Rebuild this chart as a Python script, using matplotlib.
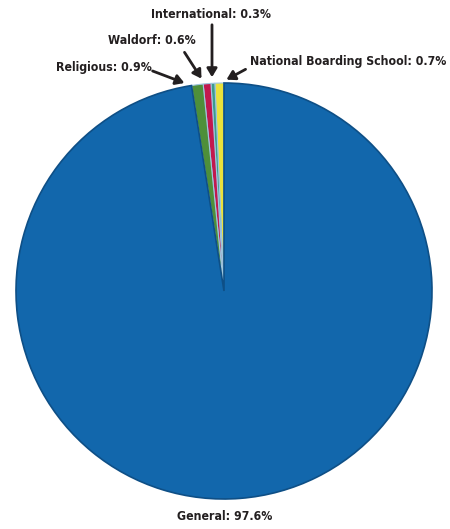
import matplotlib
matplotlib.use("Agg")
import matplotlib.pyplot as plt

categories = ["National Boarding School", "International", "Waldorf", "Religious", "General"]
values = [0.7, 0.3, 0.6, 0.9, 97.6]
colors = ["#E9E23C", "#3C9C8C", "#C2184E", "#4E8F3A", "#1267AC"]

plt.rcParams['font.family'] = ['DejaVu Sans']

W, H = 450, 529
fig = plt.figure(figsize=(W / 100, H / 100), dpi=100)
ax = fig.add_axes([0, 0, 1, 1])

def Y(y):
    return H - y

cx, cy, r = 224, Y(291), 208
wedges, _ = ax.pie(values, colors=colors, startangle=90, counterclock=True,
                   center=(cx, cy), radius=r, frame=True,
                   wedgeprops=dict(edgecolor="#0E4F86", linewidth=1.2))
for w in wedges[:4]:
    w.set_edgecolor("#9FC6DF")
    w.set_linewidth(0.8)
ax.set_xlim(0, W)
ax.set_ylim(0, H)
ax.set_aspect('equal')
ax.axis('off')

tc = "#231F20"
fs = 8.8
kw = dict(fontsize=fs, fontweight='bold', fontstretch='condensed', color=tc, va='center')
ax.text(211, Y(14), f"{categories[1]}: {values[1]}%", ha='center', **kw)
ax.text(152, Y(41), f"{categories[2]}: {values[2]}%", ha='center', **kw)
ax.text(104, Y(68), f"{categories[3]}: {values[3]}%", ha='center', **kw)
ax.text(250, Y(61), f"{categories[0]}: {values[0]}%", ha='left', **kw)
ax.text(225, Y(517), f"{categories[4]}: {values[4]}%", ha='center', **kw)

arrows = [((212, 22), (212, 80)), ((183, 50), (203, 81)),
          ((150, 70), (187, 84)), ((248, 68), (224, 81))]
for (x0, y0), (x1, y1) in arrows:
    ax.annotate("", xy=(x1, Y(y1)), xytext=(x0, Y(y0)),
                arrowprops=dict(arrowstyle="-|>,head_length=0.5,head_width=0.3",
                                color=tc, lw=2))

fig.savefig("out.png", dpi=100)
